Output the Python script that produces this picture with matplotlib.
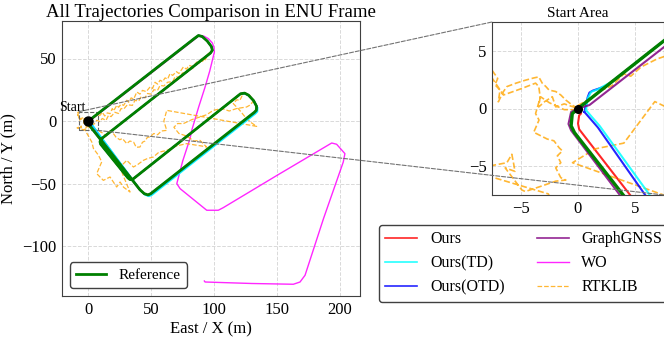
import matplotlib
matplotlib.use('Agg')
import matplotlib.pyplot as plt
from matplotlib.patches import Rectangle, ConnectionPatch

plt.rcParams['font.family'] = ['Liberation Serif', 'DejaVu Serif']

# ---------------- data (ENU metres) ----------------
ref_x = [0, 84.5, 87.5, 90.5, 94.5, 97.8, 98.6, 97.0, 10.4, 9.2, 9.7, 31.4, 33.0, 35.4,
         121.0, 124.2, 127.2, 131.3, 133.7, 133.6, 132.0, 49.6, 47.4, 44.4, 41.0,
         4.1, -0.3, -0.6, -0.5, 0]
ref_y = [0, 66.2, 68.4, 67.6, 64.0, 59.6, 56.6, 54.3, -14.2, -16.5, -18.5, -45.5, -46.8, -46.5,
         21.8, 22.3, 20.8, 16.4, 11.8, 8.7, 7.0, -58.1, -59.1, -58.1, -55.0,
         -7.7, -2.1, -1.5, -0.45, 0]

ours_x = [0, 84.5, 87.5, 90.5, 94.5, 97.8, 98.6, 97.0, 10.4, 9.2, 9.7, 31.4, 33.0, 35.4,
          121.0, 124.4, 127.5, 131.7, 134.1, 134.0, 132.4, 50.0, 47.8, 44.8, 41.5,
          4.7, 0.1, 0.0, 0.1, 0.26, 0]
ours_y = [0, 66.2, 68.4, 67.6, 64.0, 59.6, 56.6, 54.3, -14.2, -16.5, -18.5, -45.5, -46.8, -46.5,
          21.8, 22.1, 20.4, 15.9, 11.3, 8.2, 6.5, -58.6, -59.6, -58.6, -55.5,
          -7.7, -1.8, -1.3, -0.6, -0.44, 0]

td_x = [0.7, 0.85, 1.15, 1.7, 3.0, 84.5, 87.5, 90.5, 94.5, 97.8, 98.6, 97.0, 10.4, 9.2, 9.7,
        31.4, 33.0, 35.4, 121.0, 124.6, 128.0, 132.2, 134.6, 134.5, 132.9,
        50.5, 48.3, 45.3, 41.9, 6.4, 1.88, 0.7]
td_y = [-0.15, 0.9, 1.45, 1.65, 2.35, 66.2, 68.4, 67.6, 64.0, 59.6, 56.6, 54.3, -14.2, -16.5, -18.5,
        -45.5, -46.8, -46.5, 21.8, 21.9, 20.0, 15.2, 10.6, 7.5, 5.8,
        -59.3, -60.3, -59.3, -56.2, -7.7, -1.5, -0.15]

otd_x = [0.56, 0.7, 0.85, 1.0, 1.29, 2.5, 84.5, 87.5, 90.5, 94.5, 97.8, 98.6, 97.0, 10.4, 9.2, 9.7,
         31.4, 33.0, 35.4, 121.0, 124.5, 127.7, 131.9, 134.3, 134.2, 132.6,
         50.2, 48.0, 45.0, 41.6, 6.0, 1.73, 0.56]
otd_y = [-0.3, 0.4, 1.0, 1.38, 1.55, 1.96, 66.2, 68.4, 67.6, 64.0, 59.6, 56.6, 54.3, -14.2, -16.5, -18.5,
         -45.5, -46.8, -46.5, 21.8, 22.0, 20.2, 15.6, 11.0, 7.9, 6.2,
         -58.8, -59.8, -58.8, -55.7, -7.7, -1.64, -0.3]

gg_x = [0, 1.0, 7.47, 84.6, 87.6, 90.5, 94.5, 97.8, 98.6, 97.0, 10.4, 9.2, 9.7, 31.4, 33.0, 35.4,
        121.0, 124.2, 127.2, 131.3, 133.7, 133.6, 132.0, 49.4, 47.2, 44.2, 40.7,
        3.8, -0.6, -0.83, -0.6, 0]
gg_y = [0, 0.3, 5.3, 65.6, 68.0, 67.4, 63.8, 59.5, 56.5, 54.2, -14.2, -16.5, -18.5, -45.5, -46.8, -46.5,
        21.8, 22.3, 20.8, 16.4, 11.8, 8.7, 7.0, -58.1, -59.1, -58.1, -55.0,
        -7.7, -1.9, -1.34, -0.3, 0]

wo_x = [0, 84.5, 88.0, 92.0, 95.4, 98.5, 99.8, 100.2, 96.5, 92.8, 87.7, 82.2, 80.8, 75.0,
        70.3, 72.9, 94.1, 103.3, 107.3, 150.0, 193.5, 197.4, 204.0, 202.7, 187.0,
        172.3, 168.3, 163.0, 130.0, 92.8, 92.2]
wo_y = [0, 66.2, 68.6, 67.8, 65.9, 62.5, 59.2, 55.2, 40.0, 27.2, 11.2, -7.4, -14.1, -32.0,
        -50.1, -54.1, -71.4, -71.4, -69.3, -43.5, -17.6, -18.6, -26.1, -32.8, -78.0,
        -123.4, -128.8, -130.6, -130.0, -128.8, -128.0]

rtk_x = [0, -0.5, -1.06, -1.5, -1.94, -2.53, -2.8, -3.12, -3.42, -3.86,
         -4.6, -5.4, -6.2, -6.5, -6.95, -6.8, -7.24, -7.0, -7.54, -9.0,
         -8.0, -8.5, -7.6, -6.5, -5.0, -3.7, -3.42, -3.3, -3.42, -2.9,
         -2.24, -1.94, -1.2, -0.3, 0.6, 2.1, 3.0, 4.0, 4.6, 5.5,
         6.9, 7.8,
         9.3, 11, 13, 15, 17.2, 19, 20, 22.6, 24, 26,
         28, 30.5, 32, 34, 36, 38.5, 41, 43, 46, 49,
         51, 53, 55, 57, 59, 61, 63, 64.9, 67, 70,
         72, 75.5, 78, 80, 83, 86.2, 88, 90, 93, 95.4,
         97,
         93, 91, 88, 85, 83, 80, 78, 75, 72, 69,
         67, 63, 60, 57, 55, 52, 50, 47, 45, 42,
         40, 37, 35, 31, 28, 26, 24, 21, 18, 16,
         14, 11, 9, 6.7, 4, 1.5, -0.48, 3, 7.47, 11,
         14,
         17, 19.9, 22, 25, 27, 30.5, 33, 36, 38, 41,
         43, 45, 47, 49, 52, 55, 58, 62.3, 60, 62.3,
         133.8, 129, 124, 120, 115.2, 118, 120.5, 123.2, 126, 128.4,
         131, 129, 125.8,
         118, 112, 106, 99.3, 94, 88.7, 82, 75.5, 71, 68,
         72, 78, 84, 88.7, 94, 90, 84, 78.1, 70, 62.3,
         56, 51.7, 47, 43.7, 39, 35.8, 30.5, 25.2, 27.8, 33.1,
         28, 25.2, 22.5, 17.2, 11.9, 6.6, 10.6, 8, 4, 2.7,
         0, -2.6,
         -9, -7.8, -6.2, -5.77, -5.6, -5.5, -6.35, -4.9, -4.6, -3.4,
         -1.94, -1.06, -1.5, -1.94, -1.5, -1.8, -1.36, -1.65, -2.1, -2.68,
         -3.86, -3.4, -3.7, -3.27, -2.5, -1.2, -0.4, 0]
rtk_y = [0, 0.29, 0.73, 1.17, 1.47, 1.6, 1.9, 2.2, 2.74, 2.65,
         2.45, 2.2, 1.9, 1.47, 0.58, 1.6, 2.06, 2.6, 3.38, 5.5,
         7.2, 4.0, 2.8, 1.17, 1.7, 2.2, 1.9, 1.0, 0.14, 0.6,
         1.02, 0.14, 0.4, 0.1, 0.6, 1.6, 2.0, 3.0, 2.8, 3.6,
         4.3, 4.6,
         4.6, 7, 4, 6.5, 5.9, 10, 8, 12.6, 11, 13.5,
         12.5, 16.6, 15, 18.5, 17.5, 23.2, 21.5, 24.5, 23.5, 27.2,
         26, 31, 29.5, 32.6, 31.5, 34.5, 33.5, 37.9, 36.5, 39.5,
         38, 43.2, 41.5, 44.5, 43.5, 47.2, 46, 50, 49, 53.9,
         55,
         51.5, 48, 46.5, 45.5, 42, 41.5, 38, 38.5, 35, 35.5,
         31.5, 31, 28, 28.5, 24.5, 25, 21.5, 22, 18.5, 19.5,
         16, 16.5, 12.5, 13, 9.5, 10, 6, 7, 3.5, 4.5,
         0.5, 2, -0.5, 0.6, -3, -3.5, -4.7, -5.93, -7.5, -9.5,
         -12,
         -8, -10.1, -13, -15, -14, -18.1, -16, -17, -21, -20.8,
         -17, -16, -13, -12.8, -10, -11, -8, -7.5, 0, 8.5,
         -4.3, -1, 4, 9, 13.9, 17, 16.5, 22.4, 22, 20.5,
         16, 13, 11.2,
         10, 8, 10, 8.5, 5, 3.2, 1, -2.1, -2, -5,
         -10, -12, -16, -15.5, -20.8, -20, -19, -18.1, -20, -23.5,
         -25, -28.8, -30, -31.5, -35, -36.8, -31.5, -36.8, -44, -56.8,
         -53, -48.8, -52.8, -44.8, -47.5, -42.1, -32.7, -27.4, -22, -16.8,
         -12, -7.4,
         -5.5, -5.0, -4.7, -3.97, -4.85, -5.45, -5.15, -7.06, -7.2, -6.8,
         -6.3, -6.2, -6.0, -5.15, -4.7, -4.1, -3.68, -3.4, -2.8, -2.65,
         -2.06, -1.0, -0.44, 1.02, 0.5, -0.1, -0.1, 0]

start_xy = (0.0, 0.0)
zoom_half = 7.5

# ---------------- figure ----------------
W, H = 664, 339
fig = plt.figure(figsize=(W / 100, H / 100), dpi=100)
ax = fig.add_axes([62 / W, (H - 296) / H, 298 / W, 275 / H])
axins = fig.add_axes([492 / W, (H - 195) / H, 172 / W, 173 / H])


def draw(a, inset):
    lo = 1.5 if inset else 1.2
    lr = 2.4 if inset else 2.0
    h1, = a.plot(ours_x, ours_y, color='red', lw=lo, alpha=0.85, label='Ours')
    h2, = a.plot(td_x, td_y, color='cyan', lw=lo, alpha=0.85, label='Ours(TD)', zorder=2.3)
    h3, = a.plot(otd_x, otd_y, color='blue', lw=lo, alpha=0.85, label='Ours(OTD)', zorder=2.2)
    h4, = a.plot(gg_x, gg_y, color='purple', lw=lo, alpha=0.85, label='GraphGNSS', zorder=2.4)
    h5, = a.plot(wo_x, wo_y, color='magenta', lw=1.0 if not inset else 1.3, alpha=0.85, label='WO')
    h6, = a.plot(rtk_x, rtk_y, color='orange', lw=0.9 if not inset else 1.2, ls='--',
                 alpha=0.8, label='RTKLIB')
    hr, = a.plot(ref_x, ref_y, color='green', lw=lr, label='Reference', zorder=5)
    a.plot(*start_xy, 'o', color='black', ms=6.5 if not inset else 5.5, zorder=6)
    a.grid(True, ls='--', color='0.85', lw=0.7)
    a.set_axisbelow(True)
    a.tick_params(length=0, labelsize=12, pad=4)
    for s in a.spines.values():
        s.set_color('0.25')
    return [h1, h2, h3, h4, h5, h6], hr


handles, ref_h = draw(ax, False)
draw(axins, True)

ax.set_xlim(-21, 216)
ax.set_ylim(-140, 80)
ax.set_xticks([0, 50, 100, 150, 200])
ax.set_yticks([-100, -50, 0, 50])
ax.set_xlabel('East / X (m)', fontsize=12, labelpad=3)
ax.set_ylabel('North / Y (m)', fontsize=12, labelpad=4)
ax.set_title('All Trajectories Comparison in ENU Frame', fontsize=13.5, pad=3)
ax.text(-2, 8.0, 'Start', ha='right', va='baseline', fontsize=10, zorder=7)
ax.legend(handles=[ref_h], loc='lower left', fontsize=11, edgecolor='0.25',
          fancybox=True, framealpha=1)

axins.set_xlim(start_xy[0] - zoom_half, start_xy[0] + zoom_half)
axins.set_ylim(start_xy[1] - zoom_half, start_xy[1] + zoom_half)
axins.set_xticks([-5, 0, 5])
axins.set_yticks([-5, 0, 5])
axins.set_title('Start Area', fontsize=11, pad=3.5)

rect = Rectangle((start_xy[0] - zoom_half, start_xy[1] - zoom_half), 2 * zoom_half, 2 * zoom_half,
                 fill=False, ls='--', ec='0.4', lw=0.8, zorder=4)
ax.add_patch(rect)
c1 = ConnectionPatch(xyA=(start_xy[0] - zoom_half, start_xy[1] + zoom_half), coordsA=ax.transData,
                     xyB=(0, 1), coordsB=axins.transAxes, ls='--', color='0.45', lw=0.8, zorder=10)
c2 = ConnectionPatch(xyA=(start_xy[0] + zoom_half, start_xy[1] - zoom_half), coordsA=ax.transData,
                     xyB=(1, 0), coordsB=axins.transAxes, ls='--', color='0.45', lw=0.8, zorder=10)
fig.add_artist(c1)
fig.add_artist(c2)

fig.legend(handles=handles, loc='upper left', bbox_to_anchor=(379 / W, 1 - 225 / H),
           borderaxespad=0, ncol=2, fontsize=11.5, edgecolor='0.25', framealpha=1)

fig.savefig('out.png', dpi=100)
